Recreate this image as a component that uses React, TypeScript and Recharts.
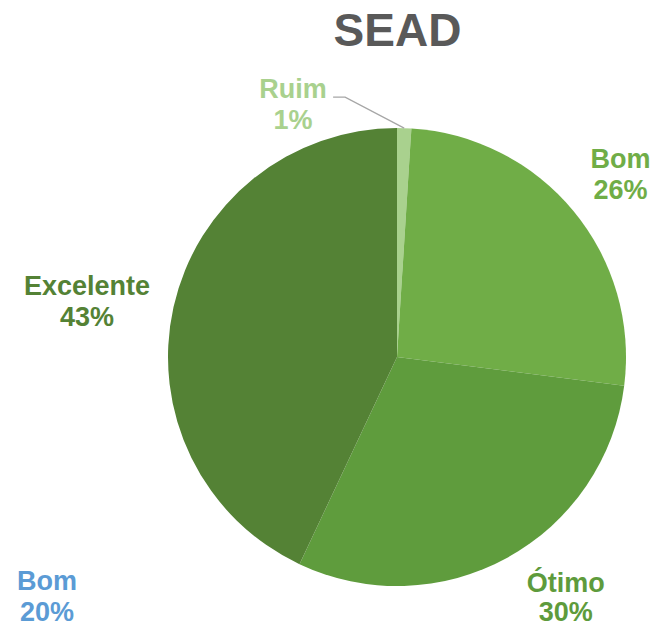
import React from 'react';
import { PieChart, Pie, Cell } from 'recharts';

const categories = ['Ruim', 'Bom', 'Ótimo', 'Excelente'];
const values = [1, 26, 30, 43];
const colors = ['#A9D18E', '#70AD47', '#5F9C3D', '#548235'];
const labelColors = ['#A9D18E', '#70AD47', '#5E9B3C', '#548235'];

// stray label left over in the source chart
const extraLabelName = 'Bom';
const extraLabelValue = '20%';

const data = categories.map((name, i) => ({ name, value: values[i] }));

// nudges from the radial label spot, per slice
const labelNudge = [
  [-113, 31],
  [0, -4],
  [29, -19],
  [-27, 1],
];

const RAD = Math.PI / 180;
const FONT = '"Liberation Sans", Arial, sans-serif';

const renderLabel = (props: any) => {
  const { cx, cy, midAngle, outerRadius, index, percent, name } = props;
  const r = outerRadius + 61;
  const cos = Math.cos(-midAngle * RAD);
  const sin = Math.sin(-midAngle * RAD);
  const x = cx + r * cos + labelNudge[index][0];
  const y = cy + r * sin + labelNudge[index][1];
  const color = labelColors[index];
  const gap = index === 2 ? 29 : 31;
  let line = null;
  if (index === 0) {
    const sx = cx + outerRadius * cos;
    const sy = cy + outerRadius * sin;
    line = (
      <polyline
        points={`${sx},${sy} ${x + 52},${y - 1} ${x + 40},${y - 1}`}
        fill="none"
        stroke="#A6A6A6"
        strokeWidth={1.3}
      />
    );
  }
  return (
    <g key={`lbl-${index}`}>
      {line}
      <text x={x} y={y} textAnchor="middle" fill={color} fontFamily={FONT} fontWeight="bold" fontSize={27}>
        {name}
      </text>
      <text x={x} y={y + gap} textAnchor="middle" fill={color} fontFamily={FONT} fontWeight="bold" fontSize={27}>
        {`${Math.round(percent * 100)}%`}
      </text>
    </g>
  );
};

export default function App() {
  return (
    <div style={{ position: 'absolute', left: 0, top: 0, width: 658, height: 629, background: '#fff' }}>
      <div
        style={{
          position: 'absolute',
          left: 0,
          width: 795,
          top: 4,
          textAlign: 'center',
          fontFamily: FONT,
          fontWeight: 'bold',
          fontSize: 46,
          color: '#595959',
          lineHeight: '52px',
        }}
      >
        SEAD
      </div>
      <PieChart width={658} height={629} style={{ position: 'absolute', left: 0, top: 0 }}>
        <Pie
          data={data}
          dataKey="value"
          nameKey="name"
          cx={392}
          cy={352}
          outerRadius={229}
          startAngle={90}
          endAngle={-270}
          stroke="none"
          label={renderLabel}
          labelLine={false}
          isAnimationActive={false}
        >
          {data.map((d, i) => (
            <Cell key={d.name} fill={colors[i]} />
          ))}
        </Pie>
      </PieChart>
      <div
        style={{
          position: 'absolute',
          left: 7,
          width: 80,
          top: 566,
          textAlign: 'center',
          fontFamily: FONT,
          fontWeight: 'bold',
          fontSize: 27,
          color: '#5B9BD5',
          lineHeight: '31px',
        }}
      >
        <div>{extraLabelName}</div>
        <div>{extraLabelValue}</div>
      </div>
    </div>
  );
}
